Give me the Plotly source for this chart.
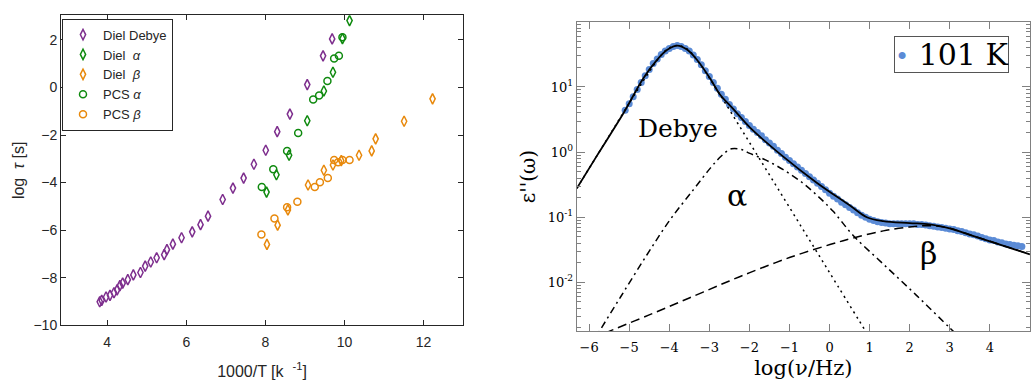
import plotly.graph_objects as go

W, H = 1034, 380

# ---------------- Left panel: relaxation map ----------------
debye_x = [3.81, 3.86, 3.97, 4.07, 4.17, 4.25, 4.32, 4.39, 4.52, 4.66, 4.84, 4.96, 5.10, 5.25,
           5.44, 5.51, 5.66, 5.88, 6.15, 6.36, 6.55, 6.92, 7.18, 7.45, 7.71, 8.01, 8.30, 8.62,
           9.06, 9.46, 9.69]
debye_y = [-9.01, -8.95, -8.81, -8.74, -8.63, -8.51, -8.33, -8.23, -8.08, -7.88, -7.78, -7.51,
           -7.34, -7.16, -7.03, -6.82, -6.59, -6.32, -6.07, -5.77, -5.41, -4.71, -4.23, -3.81,
           -3.23, -2.64, -1.86, -1.12, 0.12, 1.33, 2.04]
diel_alpha_x = [8.03, 8.28, 8.60, 9.06, 9.48, 9.71, 9.95, 10.13]
diel_alpha_y = [-4.40, -3.67, -2.85, -1.40, -0.15, 0.64, 2.05, 2.81]
diel_beta_x = [8.04, 8.31, 8.57, 9.08, 9.48, 9.71, 9.92, 10.37, 10.69, 10.79, 11.51, 12.23]
diel_beta_y = [-6.60, -5.79, -5.15, -4.10, -3.48, -3.26, -3.08, -2.85, -2.67, -2.16, -1.42, -0.48]
pcs_alpha_x = [7.91, 8.20, 8.55, 8.83, 9.21, 9.36, 9.57, 9.74, 9.86, 9.95]
pcs_alpha_y = [-4.19, -3.44, -2.67, -1.92, -0.51, -0.34, 0.27, 1.22, 1.33, 2.11]
pcs_beta_x = [7.90, 8.23, 8.55, 8.81, 9.25, 9.38, 9.58, 9.74, 9.84, 9.95, 10.13]
pcs_beta_y = [-6.18, -5.51, -5.04, -4.81, -4.19, -3.99, -3.81, -3.05, -3.15, -3.05, -3.05]

left_names = ["Diel Debye", "Diel\u00a0\u00a0<i>α</i>", "Diel\u00a0\u00a0<i>β</i>",
              "PCS <i>α</i>", "PCS <i>β</i>"]

# ---------------- Right panel: loss spectrum at 101 K ----------------
data_logf = [-5.1, -5.0, -4.9, -4.8, -4.7, -4.6, -4.5, -4.4, -4.3, -4.2, -4.1, -4.0, -3.9, -3.8,
             -3.7, -3.6, -3.5, -3.4, -3.3, -3.2, -3.1, -3.0, -2.9, -2.8, -2.7, -2.6, -2.5, -2.4,
             -2.3, -2.2, -2.1, -2.0, -1.9, -1.8, -1.7, -1.6, -1.5, -1.4, -1.3, -1.2, -1.1, -1.0,
             -0.9, -0.8, -0.7, -0.6, -0.5, -0.4, -0.3, -0.2, -0.1, 0.0, 0.1, 0.2, 0.3, 0.4,
             0.5, 0.6, 0.7, 0.8, 0.9, 1.0, 1.1, 1.2, 1.3, 1.4, 1.5, 1.6, 1.7, 1.8, 1.9, 2.0,
             2.1, 2.2, 2.3, 2.4, 2.5, 2.6, 2.7, 2.8, 2.9, 3.0, 3.1, 3.2, 3.3, 3.4, 3.5, 3.6,
             3.7, 3.8, 3.9, 4.0, 4.1, 4.2, 4.3, 4.4, 4.5, 4.6, 4.7, 4.8]
data_eps = [4.37, 5.50, 7.08, 9.12, 11.7, 14.8, 18.6, 22.9, 26.9, 31.6, 35.5, 38.9, 41.7, 43.2,
            41.7, 38.9, 35.5, 30.9, 26.3, 21.9, 17.8, 14.5, 11.7, 9.55, 7.76, 6.46, 5.37, 4.57,
            3.89, 3.39, 2.95, 2.57, 2.24, 2.00, 1.78, 1.55, 1.38, 1.23, 1.07, 0.955, 0.832, 0.741,
            0.661, 0.589, 0.525, 0.468, 0.417, 0.372, 0.331, 0.295, 0.263, 0.234, 0.209, 0.191,
            0.170, 0.155, 0.141, 0.129, 0.117, 0.107, 0.100, 0.0933, 0.0891, 0.0851, 0.0832,
            0.0813, 0.0794, 0.0794, 0.0794, 0.0794, 0.0794, 0.0794, 0.0794, 0.0776, 0.0776,
            0.0759, 0.0741, 0.0724, 0.0708, 0.0692, 0.0676, 0.0661, 0.0646, 0.0617, 0.0603,
            0.0575, 0.0550, 0.0537, 0.0513, 0.0490, 0.0468, 0.0447, 0.0437, 0.0417, 0.0407,
            0.0389, 0.0380, 0.0372, 0.0363, 0.0355]

total_logf = [-6.31, -5.8, -5.14, -4.65, -4.3, -4.05, -3.8, -3.55, -3.3, -2.98, -2.73, -2.4,
              -1.99, -1.155, -0.32, 0.51, 0.93, 1.34, 2.0, 2.5, 3.0, 3.5, 4.0, 4.5, 5.0]
total_eps = [0.275, 0.891, 3.98, 13.5, 26.3, 37.2, 43.2, 37.2, 25.7, 13.5, 7.59, 4.57, 2.40,
             0.851, 0.339, 0.151, 0.100, 0.0871, 0.0813, 0.0776, 0.0676, 0.0537, 0.0427,
             0.0339, 0.0269]

debye_logf = [-6.3, -5.8, -5.3, -4.8, -4.3, -4.05, -3.8, -3.55, -3.3, -2.8, -2.3, -1.8, -1.3,
              -0.8, -0.3, 0.2, 0.9, 1.0]
debye_eps = [0.282, 0.891, 2.82, 8.83, 25.6, 38.1, 43.2, 38.1, 25.6, 8.83, 2.82, 0.891, 0.282,
             0.0891, 0.0282, 0.00891, 0.00178, 0.00141]

alpha_logf = [-5.9, -5.74, -5.2, -4.56, -3.98, -3.40, -2.98, -2.70, -2.45, -2.2, -1.99, -1.6,
              -1.155, -0.7, -0.32, 0.09, 0.59, 1.34, 2.17, 3.0, 3.3]
alpha_eps = [0.00120, 0.00178, 0.00617, 0.0263, 0.0912, 0.263, 0.562, 0.871, 1.122, 1.096,
             0.955, 0.759, 0.537, 0.347, 0.219, 0.123, 0.0525, 0.0191, 0.00631, 0.00200, 0.00132]

beta_logf = [-5.6, -5.49, -4.5, -3.5, -2.5, -1.99, -1.0, 0.01, 0.59, 1.34, 2.0, 2.5, 3.0, 3.5,
             4.0, 4.5, 5.0]
beta_eps = [0.00166, 0.00178, 0.00316, 0.00575, 0.0105, 0.0141, 0.0240, 0.0380, 0.0479, 0.0617,
            0.0708, 0.0741, 0.0676, 0.0537, 0.0427, 0.0339, 0.0269]

PURPLE = "#7E2F8E"
GREEN = "#0f8a0f"
ORANGE = "#E8890C"
BLUE = "#5b8bd6"
DARK = "#262626"

fig = go.Figure()

def left_trace(x, y, name, symbol, size, color):
    return go.Scatter(x=x, y=y, mode="markers", name=name,
                      marker=dict(symbol=symbol, size=size, color=color,
                                  line=dict(width=1.5, color=color)),
                      xaxis="x", yaxis="y", legend="legend")

fig.add_trace(left_trace(debye_x, debye_y, left_names[0], "diamond-tall-open", 7.5, PURPLE))
fig.add_trace(left_trace(diel_alpha_x, diel_alpha_y, left_names[1], "diamond-tall-open", 7.5, GREEN))
fig.add_trace(left_trace(diel_beta_x, diel_beta_y, left_names[2], "diamond-tall-open", 7.5, ORANGE))
fig.add_trace(left_trace(pcs_alpha_x, pcs_alpha_y, left_names[3], "circle-open", 7, GREEN))
fig.add_trace(left_trace(pcs_beta_x, pcs_beta_y, left_names[4], "circle-open", 7, ORANGE))

# right traces
fig.add_trace(go.Scatter(x=data_logf, y=data_eps, mode="markers", name="101 K",
                         marker=dict(symbol="circle", size=7, color=BLUE),
                         xaxis="x2", yaxis="y2", showlegend=False))
fig.add_trace(go.Scatter(x=debye_logf, y=debye_eps, mode="lines", showlegend=False,
                         line=dict(color="black", width=1.5, dash="2px,4px", shape="spline"),
                         xaxis="x2", yaxis="y2"))
fig.add_trace(go.Scatter(x=alpha_logf, y=alpha_eps, mode="lines", showlegend=False,
                         line=dict(color="black", width=1.5, dash="7px,4px,2px,4px", shape="spline"),
                         xaxis="x2", yaxis="y2"))
fig.add_trace(go.Scatter(x=beta_logf, y=beta_eps, mode="lines", showlegend=False,
                         line=dict(color="black", width=1.5, dash="9px,5px", shape="spline"),
                         xaxis="x2", yaxis="y2"))
fig.add_trace(go.Scatter(x=total_logf, y=total_eps, mode="lines", showlegend=False,
                         line=dict(color="black", width=1.8, shape="spline"),
                         xaxis="x2", yaxis="y2"))

SANS = "Liberation Sans, Arial, sans-serif"
SERIF = "DejaVu Serif, serif"

minor_vals = []
for dec in [0.001, 0.01, 0.1, 1, 10]:
    for k in range(2, 10):
        minor_vals.append(round(k * dec, 6))

fig.update_layout(
    width=W, height=H,
    margin=dict(l=0, r=0, t=0, b=0),
    paper_bgcolor="white", plot_bgcolor="white",
    showlegend=True,
    xaxis=dict(domain=[61 / W, 463 / W], range=[2.83, 13.0], tickvals=[4, 6, 8, 10, 12],
               ticks="inside", ticklen=5, tickcolor=DARK, showline=True, linecolor=DARK,
               linewidth=1, mirror="allticks", showgrid=False, zeroline=False,
               tickfont=dict(family=SANS, size=14, color=DARK), ticklabelstandoff=4,
               title=dict(text="1000/T [k\u00a0\u00a0<sup>-1</sup>]",
                          font=dict(family=SANS, size=16, color=DARK), standoff=18),
               anchor="y"),
    yaxis=dict(domain=[1 - 332.3 / H, 1 - 15.7 / H], range=[-10, 3.03],
               tickvals=[-10, -8, -6, -4, -2, 0, 2],
               ticks="inside", ticklen=5, tickcolor=DARK, showline=True, linecolor=DARK,
               linewidth=1, mirror="allticks", showgrid=False, zeroline=False,
               tickfont=dict(family=SANS, size=14, color=DARK),
               title=dict(text="log\u00a0\u00a0<i>τ</i> [s]",
                          font=dict(family=SANS, size=16, color=DARK), standoff=4),
               anchor="x"),
    xaxis2=dict(domain=[576.7 / W, 1030 / W], range=[-6.31, 5.003], tickvals=list(range(-6, 6)),
                ticks="inside", ticklen=7, tickcolor="#808080", showline=True,
                linecolor="#808080", linewidth=1, mirror="allticks", showgrid=False,
                zeroline=False, tickfont=dict(family=SERIF, size=13, color="black"),
                ticklabelstandoff=4,
                title=dict(text="log(ν/Hz)", font=dict(family=SERIF, size=21, color="black"),
                           standoff=6),
                anchor="y2"),
    yaxis2=dict(domain=[1 - 338.3 / H, 1 - 22.3 / H], type="log", range=[-2.75, 2.0],
                tickvals=[0.01, 0.1, 1, 10],
                ticktext=["10<sup>-2</sup>", "10<sup>-1</sup>", "10<sup>0</sup>", "10<sup>1</sup>"],
                ticks="inside", ticklen=8, tickcolor="#808080", showline=True,
                linecolor="#808080", linewidth=1, mirror="allticks", showgrid=False,
                zeroline=False, tickfont=dict(family=SERIF, size=13, color="black"),
                minor=dict(tickmode="array", tickvals=minor_vals, ticks="inside", ticklen=4,
                           tickcolor="#808080", showgrid=False),
                title=dict(text="ε''(ω)", font=dict(family=SERIF, size=20, color="black"),
                           standoff=6),
                anchor="x2"),
    legend=dict(x=62 / W, y=1 - 19 / H, xanchor="left", yanchor="top",
                bgcolor="white", bordercolor=DARK, borderwidth=1,
                font=dict(family=SANS, size=13, color=DARK), tracegroupgap=0,
                itemwidth=30),
    annotations=[
        dict(x=-3.79, y=0.357, xref="x2", yref="y2", text="Debye", showarrow=False,
             font=dict(family=SERIF, size=25, color="black")),
        dict(x=-2.30, y=-0.665, xref="x2", yref="y2", text="α", showarrow=False,
             font=dict(family=SERIF, size=30, color="black")),
        dict(x=2.46, y=-1.55, xref="x2", yref="y2", text="β", showarrow=False,
             font=dict(family=SERIF, size=30, color="black")),
        dict(x=951.5 / W, y=1 - 56 / H, xref="paper", yref="paper", xanchor="center",
             yanchor="middle", showarrow=False,
             text="<span style='color:#5b8bd6;font-size:24px'>\u2022</span>\u00a0101 K",
             font=dict(family=SERIF, size=30, color="black"),
             bordercolor="#555555", borderwidth=1, borderpad=0, bgcolor="white"),
    ],
)

fig.write_html("out.html")
